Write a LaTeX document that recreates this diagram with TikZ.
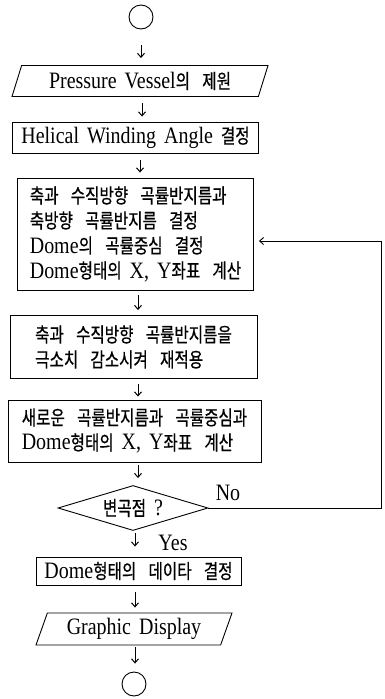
\documentclass[tikz,border=0pt]{standalone}
\usepackage{fontspec}
\setmainfont[FakeStretch=0.85,WordSpace=1.6]{Liberation Serif}
\newfontfamily\krfont[WordSpace=3.5,FakeBold=0.6,FakeStretch=0.78]{Noto Sans CJK KR}
\newcommand\krtext{\krfont\fontsize{20}{25}\selectfont}
\usetikzlibrary{shapes.geometric,arrows.meta}
\begin{document}
\begin{tikzpicture}[x=1pt,y=-1pt,
  base/.style={font=\fontsize{23.5}{25}\selectfont, inner sep=0pt, line width=0.9pt},
  proc/.style={base, draw, rectangle, align=left},
  io/.style={base, draw, trapezium, trapezium left angle=62, trapezium right angle=118, trapezium stretches body},
  term/.style={base, draw, circle, minimum size=24pt},
  decide/.style={base, draw, diamond, aspect=3.3},
  lbl/.style={font=\fontsize{23.5}{25}\selectfont, inner sep=0pt},
  flow/.style={line width=1pt, -{Straight Barb[length=4pt,width=7pt]}},
]
\useasboundingbox (0,0) rectangle (385,699);
\node[term] (c1) at (141,17) {};
\node[io, minimum width=256pt, minimum height=31pt] (p1) at (140,81) {Pressure Vessel{\krtext 의 제원}};
\node[proc, minimum width=246pt, minimum height=31pt] (b2) at (135.5,137.5) {Helical Winding Angle {\krtext 결정}};
\node[proc, minimum width=236pt, minimum height=112pt] (b3) at (135.5,234) {{\krtext 축과 수직방향 곡률반지름과}\\{\krtext 축방향 곡률반지름 결정}\\Dome{\krtext 의 곡률중심 결정}\\Dome{\krtext 형태의} X, Y{\krtext 좌표 계산}};
\node[proc, minimum width=247pt, minimum height=63pt] (b4) at (133.5,347) {{\krtext 축과 수직방향 곡률반지름을}\\{\krtext 극소치 감소시켜 재적용}};
\node[proc, minimum width=253pt, minimum height=62pt] (b5) at (134.5,431) {{\krtext 새로운 곡률반지름과 곡률중심과}\\Dome{\krtext 형태의} X, Y{\krtext 좌표 계산}};
\node[decide, minimum width=150pt, minimum height=45pt] (d) at (133,508) {{\krtext 변곡점} ?};
\node[proc, minimum width=205pt, minimum height=28pt] (b6) at (138.5,571) {Dome{\krtext 형태의 데이타 결정}};
\node[io, minimum width=196pt, minimum height=32pt] (p2) at (134,629) {Graphic Display};
\node[term] (c2) at (134,684) {};
\node[lbl] (no) at (228,493) {No};
\node[lbl] (yes) at (173,543) {Yes};
\coordinate (fb) at (381,508);

\draw[flow, shorten <=16pt, shorten >=7pt] (c1.south) -- (c1.south |- p1.north);
\draw[flow, shorten <=6pt, shorten >=5pt] ([xshift=2pt]p1.south) -- ([xshift=2pt]p1.south |- b2.north);
\draw[flow, shorten <=7pt, shorten >=5pt] ([xshift=4.5pt]b2.south) -- ([xshift=4.5pt]b2.south |- b3.north);
\draw[flow, shorten <=5pt, shorten >=5pt] ([xshift=2.5pt]b3.south) -- ([xshift=2.5pt]b3.south |- b4.north);
\draw[flow, shorten <=5pt, shorten >=3pt] ([xshift=4.5pt]b4.south) -- ([xshift=4.5pt]b4.south |- b5.north);
\draw[flow, shorten <=3pt, shorten >=7pt] ([xshift=3.5pt]b5.south) -- ([xshift=3.5pt]b5.south |- d.north);
\draw[flow, shorten <=2pt, shorten >=10pt] ([xshift=2pt]d.south) -- ([xshift=2pt]d.south |- b6.north);
\draw[flow, shorten <=7pt, shorten >=5pt] ([xshift=-3.5pt]b6.south) -- ([xshift=-3.5pt]b6.south |- p2.north);
\draw[flow, shorten <=2pt, shorten >=8pt] ([xshift=1pt]p2.south) -- ([xshift=1pt]p2.south |- c2.north);
\draw[flow, line width=0.9pt, shorten >=5pt] (d.east) -- (fb) |- ([yshift=-7pt]b3.east);
\end{tikzpicture}
\end{document}
